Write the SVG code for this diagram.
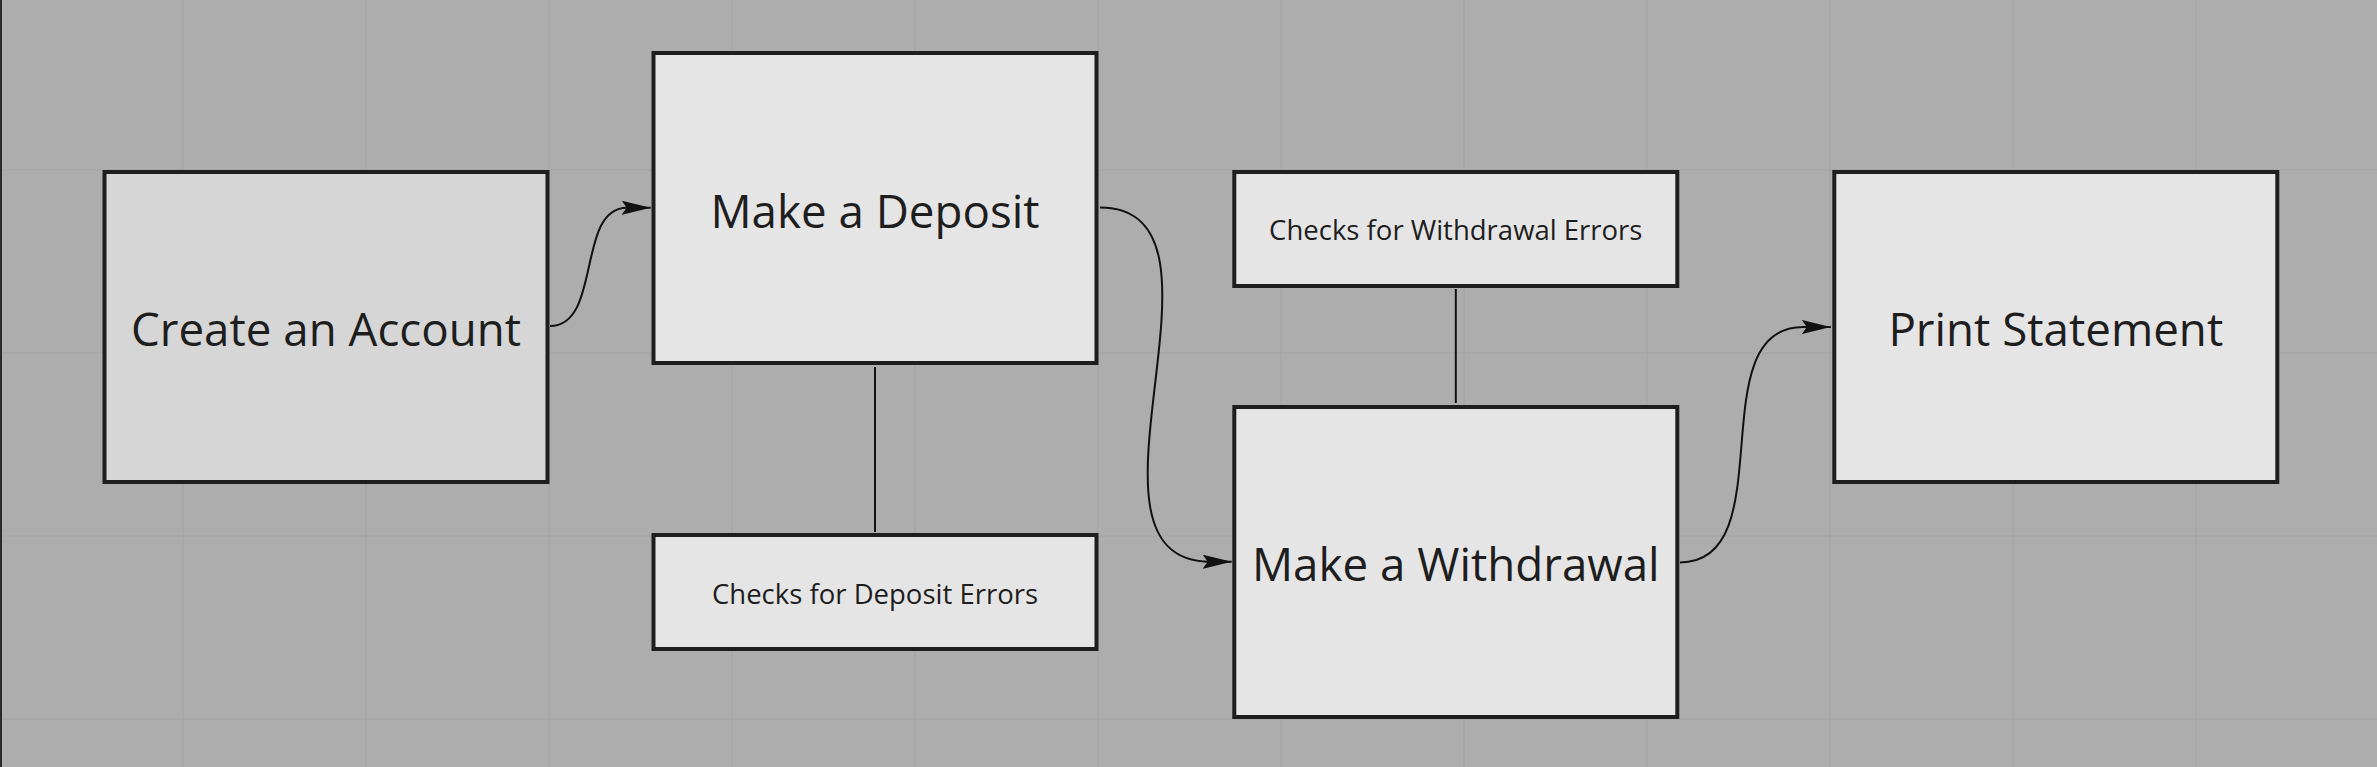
<svg xmlns="http://www.w3.org/2000/svg" width="2377" height="767" viewBox="0 0 2377 767">
<style>
.box{fill:#e5e5e5;stroke:#1e1e1e;stroke-width:4}
.box.alt{fill:#d6d6d6}
.big{font-family:"Open Sans","Noto Sans",sans-serif;font-size:45.7px;fill:#1e1e1e;text-anchor:middle}
.small{font-family:"Open Sans","Noto Sans",sans-serif;font-size:27.5px;fill:#1e1e1e;text-anchor:middle}
.conn{fill:none;stroke:#111;stroke-width:2}
.grid{fill:none;stroke:#a6a6a6;stroke-width:1.5}
</style>
<defs>
<marker id="arrow" markerUnits="userSpaceOnUse" viewBox="0 0 29 14" markerWidth="29" markerHeight="14" refX="29" refY="7" orient="auto">
<path d="M0,0 L29,7 L0,14 L5,7 Z" fill="#111"/>
</marker>
</defs>
<rect x="0" y="0" width="2377" height="767" fill="#adadad"/>
<path class="grid" d="M183,0V767M366,0V767M549,0V767M732,0V767M915,0V767M1098,0V767M1281,0V767M1464,0V767M1647,0V767M1830,0V767M2013,0V767M2196,0V767M0,170H2377M0,353H2377M0,536H2377M0,719H2377"/>
<rect x="0" y="0" width="2" height="767" fill="#2a2a2a"/>
<g id="connectors">
<path class="conn" d="M550,326 C602,326 576,207.7 627,207.7 L650.7,207.7" marker-end="url(#arrow)"/>
<path class="conn" d="M1100,207.5 C1252,207.5 1058,561.7 1210,561.7 L1231.7,561.7" marker-end="url(#arrow)"/>
<path class="conn" d="M1680,562.5 C1784,562.5 1699,327 1803,327 L1830.8,327" marker-end="url(#arrow)"/>
<line class="conn" x1="875" y1="367" x2="875" y2="532"/>
<line class="conn" x1="1455.8" y1="289" x2="1455.8" y2="403"/>
</g>
<g id="create-account">
<rect class="box alt" x="104.5" y="172" width="443" height="310"/>
<text class="big" x="326" y="346">Create an Account</text>
</g>
<g id="make-deposit">
<rect class="box" x="653.5" y="53" width="443" height="310"/>
<text class="big" x="875" y="228">Make a Deposit</text>
</g>
<g id="deposit-errors">
<rect class="box" x="653.5" y="535" width="443" height="114"/>
<text class="small" x="875" y="604">Checks for Deposit Errors</text>
</g>
<g id="withdrawal-errors">
<rect class="box" x="1234.3" y="172" width="443" height="114"/>
<text class="small" x="1455.8" y="240">Checks for Withdrawal Errors</text>
</g>
<g id="make-withdrawal">
<rect class="box" x="1234.3" y="407" width="443" height="310"/>
<text class="big" x="1455.8" y="581">Make a Withdrawal</text>
</g>
<g id="print-statement">
<rect class="box" x="1834.3" y="172" width="443" height="310"/>
<text class="big" x="2055.8" y="346">Print Statement</text>
</g>
</svg>
